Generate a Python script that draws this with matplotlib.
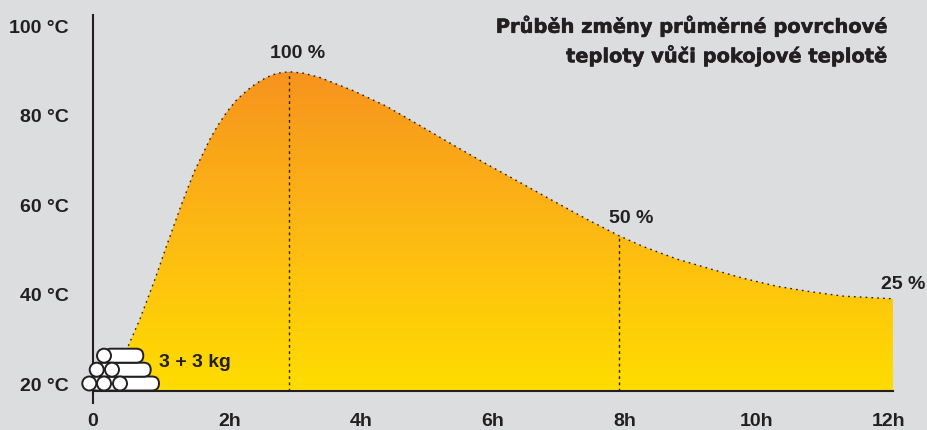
import numpy as np
import matplotlib.pyplot as plt
import matplotlib.patheffects as pe
from matplotlib.patches import Circle, FancyBboxPatch, Polygon
from matplotlib.colors import LinearSegmentedColormap

# curve: hours, deg C
hours = [0.53, 0.705, 0.93, 1.105, 1.33, 1.515, 1.755, 1.875, 2.005, 2.145, 2.305, 2.445, 2.605, 2.76, 2.945,
         3.165, 3.405, 3.905, 4.405, 4.905, 5.40, 5.905, 6.405, 6.90, 7.405, 7.89, 8.25, 8.755, 9.255, 9.75,
         10.255, 10.755, 11.25, 12.0]
temps = [30.1, 36.1, 45.0, 52.5, 61.8, 68.9, 76.3, 79.4, 82.3, 84.9, 87.1, 88.7, 90.1, 91.0, 91.35,
         91.0, 90.05, 87.1, 83.6, 79.3, 75.0, 70.7, 66.6, 62.5, 58.4, 54.7, 52.3, 49.5, 47.3, 45.2,
         43.4, 42.2, 41.2, 40.6]
peak_marks = [2.945, 7.89]
peak_temps = [91.35, 54.7]

pct_labels = ["100 %", "50 %", "25 %"]
pct_x = [3.075, 8.07, 12.16]
pct_y = [95.6, 58.8, 44.0]

y_ticks = [20, 40, 60, 80, 100]
x_labels = ["0", "2h", "4h", "6h", "8h", "10h", "12h"]
x_label_pos = [0, 2.05, 4.03, 6.0, 7.98, 9.96, 11.94]

BG = "#dcdddf"
INK = "#231f20"
plt.rcParams["font.family"] = ["Liberation Sans"]

fig = plt.figure(figsize=(9.28, 4.31), dpi=100, facecolor=BG)
ax = fig.add_axes([0, 0, 1, 1])
ax.set_xlim(-1.395, 12.525)
ax.set_ylim(11.28, 107.6)
ax.axis("off")

cmap = LinearSegmentedColormap.from_list("heat", ["#ffdd00", "#fdb913", "#f7931e"])
img = ax.imshow(np.linspace(0, 1, 256)[:, None], origin="lower", aspect="auto", cmap=cmap,
                extent=[0, 12, 20, max(temps)], zorder=1)
poly = Polygon(list(zip(hours, temps)) + [(12, 20), (hours[0], 20)], closed=True,
               transform=ax.transData, fc="none", ec="none")
ax.add_patch(poly)
img.set_clip_path(poly)
ax.set_xlim(-1.395, 12.525)
ax.set_ylim(11.28, 107.6)

ax.plot(hours, temps, color=INK, lw=1, ls=(0, (1.2, 3)), zorder=3)
ax.vlines(peak_marks, 20, peak_temps, color=INK, lw=1, ls=(0, (2, 2.5)), zorder=3)

# axes lines
ax.plot([0, 0], [17.3, 104], color=INK, lw=1.5, zorder=4)
ax.plot([0, 12], [20, 20], color=INK, lw=1.5, zorder=4)

for t in y_ticks:
    ax.text(-0.36, t + 1.25, f"{t} °C", ha="right", va="center", fontsize=14, fontweight="bold", color=INK)
for p, lab in zip(x_label_pos, x_labels):
    ax.text(p, 12.35, lab, ha="center", va="baseline", fontsize=14, fontweight="bold", color=INK)
for p, v, lab in zip(pct_x, pct_y, pct_labels):
    ax.text(p, v, lab, ha="center", va="center", fontsize=14, fontweight="bold", color=INK, zorder=5)

# title is a heavy wide face in the original, DejaVu bold with a thin stroke gets close
stroke = [pe.withStroke(linewidth=0.4, foreground=INK)]
ax.text(11.94, 101.5, "Průběh změny průměrné povrchové", ha="right", va="center", fontsize=14,
        fontweight="bold", color=INK, family="DejaVu Sans", path_effects=stroke)
ax.text(11.94, 94.9, "teploty vůči pokojové teplotě", ha="right", va="center", fontsize=14,
        fontweight="bold", color=INK, family="DejaVu Sans", path_effects=stroke)
ax.text(0.99, 26.6, "3 + 3 kg", ha="left", va="center", fontsize=14, fontweight="bold", color=INK, zorder=6)

# stacked logs, drawn on a pixel overlay
ov = fig.add_axes([0, 0, 1, 1], facecolor="none")
ov.set_xlim(0, 928)
ov.set_ylim(431, 0)
ov.axis("off")
R = 7
rows = [(384.5, [89.3, 104, 120], 159), (370.7, [96.7, 112], 150.7), (356.7, [104], 143.3)]
for cy, cxs, right in rows:
    left = cxs[0]
    ov.add_patch(FancyBboxPatch((left, cy - R), right - left, 2 * R,
                                boxstyle=f"round,pad=0,rounding_size={R}", fc="white", ec=INK, lw=1.4, zorder=2))
    for cx in cxs:
        ov.add_patch(Circle((cx, cy), R, fc="white", ec=INK, lw=1.4, zorder=3))

fig.savefig("out.png", dpi=100, facecolor=BG)
